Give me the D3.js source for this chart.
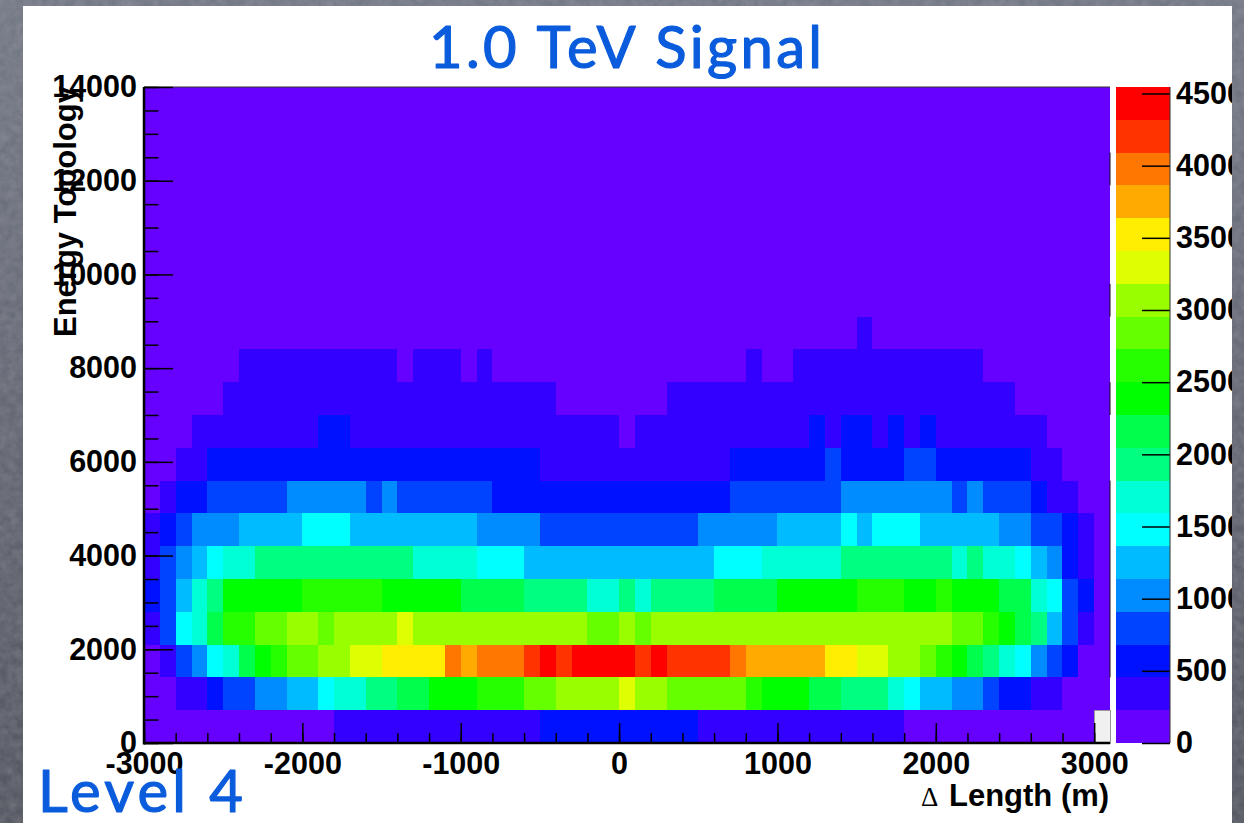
<!DOCTYPE html>
<html>
<head>
<meta charset="utf-8">
<title>1.0 TeV Signal</title>
<script src="https://cdn.jsdelivr.net/npm/d3@7"></script>
<style>
	html, body { margin: 0; padding: 0; background: #666b78; overflow: hidden; }
	svg { display: block; }
	.num text, .lab { font-family: "Liberation Sans", Arial, sans-serif; font-weight: bold; fill: #000; }
	.num text { font-size: 30.5px; }
	.hand { font-family: Lato, sans-serif; fill: #0a5cdc; stroke: #0a5cdc; stroke-width: 1.2px; stroke-linejoin: round; font-size: 58px; }
	.axis path { display: none; }
	.axis line { stroke: #000; stroke-width: 1.5px; }
	.bins rect { shape-rendering: crispEdges; }
</style>
</head>
<body>
<div id="chart"></div>
<script>

// colour band of each bin, one list per row, 100 m wide bins from -3000 to 3100
// rows are 700 wide, bottom row first. everything above the last row is band 0
var row0  = [0,0,0,0,0,0,0,0,0,0,0,0,1,1,1,1,1,1,1,1,1,1,1,1,1,2,2,2,2,2,2,2,2,2,2,1,1,1,1,1,1,1,1,1,1,1,1,1,0,0,0,0,0,0,0,0,0,0,0,0,null];
var row1  = [0,0,1,1,2,3,3,4,4,5,5,6,7,7,8,8,9,9,10,10,10,11,11,11,12,12,13,13,13,13,14,13,13,12,12,12,12,12,11,10,10,10,9,9,8,8,8,7,6,5,5,4,4,3,2,2,1,1,0,0,0];
var row2  = [0,1,3,4,6,7,9,10,11,12,12,13,13,14,14,15,15,15,15,17,16,17,17,17,18,19,18,19,19,19,19,18,19,18,18,18,18,17,16,16,16,16,16,15,15,14,14,13,13,12,11,10,9,8,7,6,4,3,2,0,0];
var row3  = [1,3,6,7,9,11,11,12,12,13,13,12,13,13,13,13,14,13,13,13,13,13,13,13,13,13,13,13,12,12,13,12,13,13,13,13,13,13,13,13,13,13,13,13,13,13,13,13,13,13,13,12,12,11,10,9,8,5,3,1,0];
var row4  = [2,3,5,7,8,10,10,10,10,10,11,11,11,11,11,10,10,10,10,10,9,9,9,9,8,8,8,8,7,7,8,7,8,8,8,8,9,9,9,9,10,10,10,10,10,11,11,11,10,10,11,10,10,10,9,9,7,6,3,2,0];
var row5  = [1,3,4,5,6,7,7,8,8,8,8,8,8,8,8,8,8,7,7,7,7,6,6,6,5,5,5,5,5,5,5,5,5,5,5,5,6,6,6,7,7,7,7,7,8,8,8,8,8,8,8,7,8,7,7,6,5,4,2,1,0];
var row6  = [1,2,3,4,4,4,5,5,5,5,6,6,6,5,5,5,5,5,5,5,5,4,4,4,4,3,3,3,3,3,3,3,3,3,3,4,4,4,4,4,5,5,5,5,6,5,6,6,6,5,5,5,5,5,4,4,3,3,2,1,0];
var row7  = [0,1,2,2,3,3,3,3,3,4,4,4,4,4,3,4,3,3,3,3,3,3,2,2,2,2,2,2,2,2,2,2,2,2,2,2,2,3,3,3,3,3,3,3,4,4,4,4,4,4,4,3,4,3,3,3,2,1,1,0,0];
var row8  = [0,0,1,1,2,2,2,2,2,2,2,2,2,2,2,2,2,2,2,2,2,2,2,2,2,1,1,1,1,1,1,1,1,1,1,1,1,2,2,2,2,2,2,3,2,2,2,2,3,3,2,2,2,2,2,2,1,1,0,0,0];
var row9  = [0,0,0,1,1,1,1,1,1,1,1,2,2,1,1,1,1,1,1,1,1,1,1,1,1,1,1,1,1,1,0,1,1,1,1,1,1,1,1,1,1,1,2,1,2,2,1,2,1,2,1,1,1,1,1,1,1,0,0,0,0];
var row10 = [0,0,0,0,0,1,1,1,1,1,1,1,1,1,1,1,1,1,1,1,1,1,1,1,1,1,0,0,0,0,0,0,0,1,1,1,1,1,1,1,1,1,1,1,1,1,1,1,1,1,1,1,1,1,1,0,0,0,0,0,0];
var row11 = [0,0,0,0,0,0,1,1,1,1,1,1,1,1,1,1,0,1,1,1,0,1,0,0,0,0,0,0,0,0,0,0,0,0,0,0,0,0,1,0,0,1,1,1,1,1,1,1,1,1,1,1,1,0,0,0,0,0,0,0,0];
var row12 = [0,0,0,0,0,0,0,0,0,0,0,0,0,0,0,0,0,0,0,0,0,0,0,0,0,0,0,0,0,0,0,0,0,0,0,0,0,0,0,0,0,0,0,0,0,1,0,0,0,0,0,0,0,0,0,0,0,0,0,0,0];
var rows = [row0, row1, row2, row3, row4, row5, row6, row7, row8, row9, row10, row11, row12];

var palette = ["#6600ff","#3300ff","#0011ff","#0044ff","#008cff","#00bbff","#00ffff","#00ffd5","#00ff80","#00ff4d",
	"#00ff00","#26ff00","#66ff00","#99ff00","#ddff00","#ffee00","#ffaa00","#ff7700","#ff3300","#ff0000"];

var xTicks = [-3000,-2000,-1000,0,1000,2000,3000];
var yTicks = [0,2000,4000,6000,8000,10000,12000,14000];
var zTicks = [0,500,1000,1500,2000,2500,3000,3500,4000,4500];

// pieces of the right hand frame line that are still visible, as [from, to] on the y axis
var rightEdge = [[1400,5600],[7000,7700],[9100,9800],[11900,12600]];

var xMin = -3000, xMax = 3100, xBin = 100;
var yMax = 14000, yBin = 700;
var zMax = 4545;

var W = 1244, H = 823;
var plot = {left: 144, right: 1110, top: 87, bottom: 743};
var bar = {left: 1116, right: 1170};

var x = d3.scaleLinear().domain([xMin, xMax]).range([plot.left, plot.right]);
var y = d3.scaleLinear().domain([0, yMax]).range([plot.bottom, plot.top]);
var z = d3.scaleLinear().domain([0, zMax]).range([plot.bottom, plot.top]);

var svg = d3.select("#chart").append("svg")
	.attr("width", W)
	.attr("height", H);

var defs = svg.append("defs");

var grad = defs.append("linearGradient")
	.attr("id", "slate")
	.attr("x1", 0).attr("y1", 0).attr("x2", 0).attr("y2", 1);
grad.append("stop").attr("offset", "0%").attr("stop-color", "#737885");
grad.append("stop").attr("offset", "100%").attr("stop-color", "#53565f");

var grain = defs.append("filter").attr("id", "grain");
grain.append("feTurbulence")
	.attr("type", "fractalNoise")
	.attr("baseFrequency", 0.12)
	.attr("numOctaves", 3)
	.attr("seed", 4);
grain.append("feColorMatrix")
	.attr("values", "0 0 0 0 0.5  0 0 0 0 0.5  0 0 0 0 0.55  0.5 0.5 0 0 -0.28");

svg.append("rect").attr("width", W).attr("height", H).attr("fill", "url(#slate)");
svg.append("rect").attr("width", W).attr("height", H).attr("filter", "url(#grain)").attr("opacity", 0.5);

// the white slide
svg.append("rect")
	.attr("x", 23)
	.attr("y", 6)
	.attr("width", 1209)
	.attr("height", H - 6)
	.attr("fill", "#fff");

defs.append("clipPath").attr("id", "slideclip")
	.append("rect")
	.attr("x", 23)
	.attr("y", 6)
	.attr("width", 1209)
	.attr("height", H - 6);

var chartGroup = svg.append("g").attr("clip-path", "url(#slideclip)");

// empty bins above the rows
chartGroup.append("g")
	.attr("class", "bins")
	.append("rect")
	.attr("x", x(xMin))
	.attr("y", y(yMax))
	.attr("width", x(xMax) - x(xMin))
	.attr("height", y(0) - y(yMax))
	.attr("fill", palette[0]);

rows.forEach(function(row, r) {
	chartGroup.append("g")
		.attr("class", "bins")
		.selectAll("rect")
		.data(row)
		.enter()
		.append("rect")
		.attr("x", function(d, i) { return x(xMin + i * xBin); })
		.attr("y", y((r + 1) * yBin))
		.attr("width", x(xMin + xBin) - x(xMin))
		.attr("height", y(0) - y(yBin))
		.attr("fill", function(d) { return d === null ? "#f0f0f0" : palette[d]; })
		.attr("stroke", function(d) { return d === null ? "#999" : "none"; })
		.attr("stroke-width", function(d) { return d === null ? 1 : 0; });
});

// frame
chartGroup.append("line")
	.attr("x1", plot.left).attr("x2", plot.right)
	.attr("y1", plot.top).attr("y2", plot.top)
	.attr("stroke", "#333")
	.attr("stroke-width", 1);

chartGroup.selectAll(".edge")
	.data(rightEdge)
	.enter()
	.append("line")
	.attr("class", "edge")
	.attr("x1", plot.right).attr("x2", plot.right)
	.attr("y1", function(d) { return y(d[0]); })
	.attr("y2", function(d) { return y(d[1]); })
	.attr("stroke", "#111")
	.attr("stroke-width", 1);

// minor ticks first, the major ones carry the labels
var yMinor = d3.axisLeft(y)
	.tickValues(d3.range(0, yMax + 1, 500))
	.tickSizeInner(-14.5)
	.tickSizeOuter(0)
	.tickFormat("");
var yMajor = d3.axisLeft(y)
	.tickValues(yTicks)
	.tickSizeInner(-29)
	.tickSizeOuter(0)
	.tickPadding(7)
	.tickFormat(function(d) { return String(d); });
var xMinor = d3.axisBottom(x)
	.tickValues(d3.range(xMin, 3001, 200))
	.tickSizeInner(-10)
	.tickSizeOuter(0)
	.tickFormat("");
var xMajor = d3.axisBottom(x)
	.tickValues(xTicks)
	.tickSizeInner(-20)
	.tickSizeOuter(0)
	.tickPadding(9)
	.tickFormat(function(d) { return String(d); });

var leftG = "translate(" + plot.left + ",0)";
var bottomG = "translate(0," + plot.bottom + ")";

chartGroup.append("g").attr("class", "axis").attr("transform", leftG).call(yMinor);
chartGroup.append("g").attr("class", "axis num").attr("transform", leftG).call(yMajor);
chartGroup.append("g").attr("class", "axis").attr("transform", bottomG).call(xMinor);
chartGroup.append("g").attr("class", "axis num").attr("transform", bottomG).call(xMajor);

chartGroup.append("line")
	.attr("x1", plot.left).attr("x2", plot.left)
	.attr("y1", plot.top).attr("y2", plot.bottom + 1.5)
	.attr("stroke", "#000")
	.attr("stroke-width", 2.5);
chartGroup.append("line")
	.attr("x1", plot.left).attr("x2", plot.right)
	.attr("y1", plot.bottom).attr("y2", plot.bottom)
	.attr("stroke", "#000")
	.attr("stroke-width", 2.5);

// colour bar
chartGroup.append("g")
	.attr("class", "bins")
	.selectAll("rect")
	.data(palette)
	.enter()
	.append("rect")
	.attr("x", bar.left)
	.attr("width", bar.right - bar.left)
	.attr("y", function(d, i) { return z((i + 1) * zMax / palette.length); })
	.attr("height", z(0) - z(zMax / palette.length))
	.attr("fill", function(d) { return d; });

var zAxis = d3.axisRight(z)
	.tickValues(zTicks)
	.tickSizeInner(-28)
	.tickSizeOuter(0)
	.tickPadding(6)
	.tickFormat(function(d) { return String(d); });

chartGroup.append("g")
	.attr("class", "axis num")
	.attr("transform", "translate(" + bar.right + ",0)")
	.call(zAxis);

chartGroup.append("line")
	.attr("x1", bar.right).attr("x2", bar.right)
	.attr("y1", plot.top).attr("y2", plot.bottom)
	.attr("stroke", "#333")
	.attr("stroke-width", 1);

// labels
chartGroup.append("text")
	.attr("class", "lab")
	.attr("transform", "translate(76,337) rotate(-90)")
	.attr("font-size", 31)
	.text("Energy Topology");

chartGroup.append("text")
	.attr("x", 921)
	.attr("y", 806)
	.attr("font-family", "Liberation Serif")
	.attr("font-size", 27)
	.attr("fill", "#000")
	.text("\u0394");

chartGroup.append("text")
	.attr("class", "lab")
	.attr("x", 949)
	.attr("y", 806)
	.attr("font-size", 31)
	.text("Length (m)");

chartGroup.append("text")
	.attr("class", "hand")
	.attr("x", 429)
	.attr("y", 68)
	.attr("textLength", 393)
	.attr("lengthAdjust", "spacing")
	.text("1.0 TeV  Signal");

chartGroup.append("text")
	.attr("class", "hand")
	.attr("x", 38)
	.attr("y", 812)
	.attr("textLength", 205)
	.attr("lengthAdjust", "spacing")
	.text("Level 4");

</script>
</body>
</html>
